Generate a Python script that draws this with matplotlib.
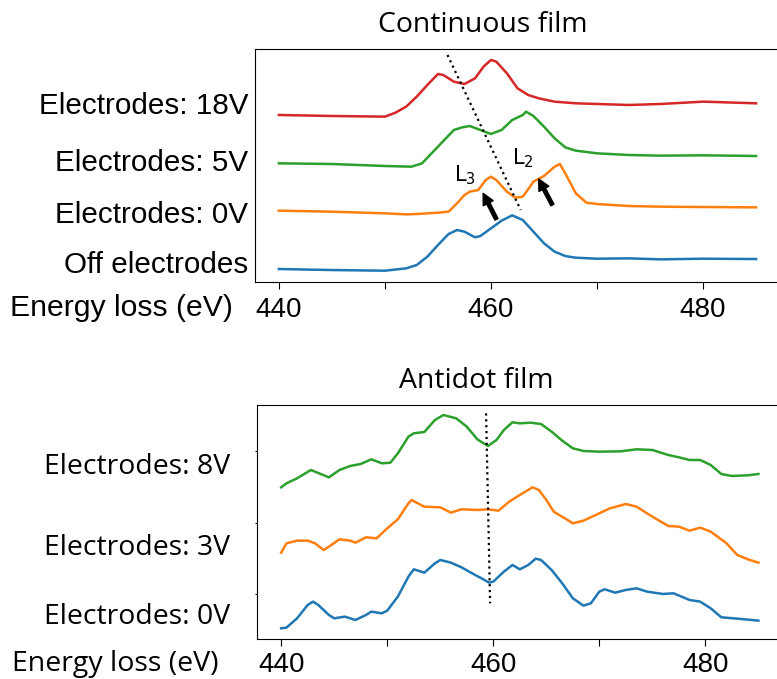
import matplotlib
matplotlib.use("Agg")
import matplotlib.pyplot as plt

# ---- continuous film (arbitrary units) ----
top_labels = ["Off electrodes", "Electrodes: 0V", "Electrodes: 5V", "Electrodes: 18V"]
top_label_y = [0.59, 2.09, 3.65, 5.36]

off_e = [440, 445, 450, 452, 453, 454, 455, 456, 456.8, 457.5, 458.5, 459, 460, 461, 462,
         463, 464, 465, 466, 467, 468, 470, 473, 476, 480, 485]
off_i = [0.38, 0.35, 0.33, 0.40, 0.50, 0.75, 1.10, 1.43, 1.55, 1.50, 1.33, 1.37, 1.60, 1.83,
         1.99, 1.85, 1.50, 1.15, 0.90, 0.77, 0.72, 0.69, 0.70, 0.67, 0.69, 0.68]

v0_e = [440, 445, 450, 452, 453, 454, 455, 456, 456.8, 457.5, 458, 458.8, 459.5, 460, 460.5,
        461.5, 462.3, 463, 463.5, 464, 465, 466, 466.5, 467, 468, 469, 470, 473, 476, 480, 485]
v0_i = [2.13, 2.10, 2.05, 2.02, 2.03, 2.05, 2.07, 2.10, 2.35, 2.60, 2.70, 2.75, 3.05, 3.15,
        3.05, 2.70, 2.52, 2.55, 2.77, 3.00, 3.17, 3.45, 3.53, 3.25, 2.65, 2.37, 2.33, 2.27,
        2.25, 2.24, 2.23]

v5_e = [440, 445, 450, 452.5, 453.5, 455, 456.5, 457.3, 458, 459, 460, 461, 462, 463, 463.3,
        464, 465, 466, 467, 468, 470, 473, 476, 480, 485]
v5_i = [3.55, 3.53, 3.47, 3.45, 3.55, 4.05, 4.55, 4.63, 4.67, 4.55, 4.43, 4.55, 4.85, 5.00,
        5.10, 4.97, 4.65, 4.30, 4.03, 3.93, 3.85, 3.80, 3.78, 3.79, 3.77]

v18_e = [440, 445, 450, 451, 452, 453, 454, 455, 455.5, 456.5, 457.5, 458.5, 459.3, 460,
         460.5, 461.5, 462.5, 463.5, 464.5, 466, 468, 470, 473, 476, 480, 485]
v18_i = [5.00, 4.97, 4.95, 5.07, 5.25, 5.55, 5.90, 6.23, 6.20, 6.00, 5.93, 6.10, 6.45, 6.65,
         6.60, 6.25, 5.80, 5.60, 5.50, 5.40, 5.35, 5.33, 5.30, 5.33, 5.40, 5.35]

# ---- antidot film ----
bot_labels = ["Electrodes: 0V", "Electrodes: 3V", "Electrodes: 8V"]

a0_e = [440, 440.5, 441.5, 442.5, 443, 443.5, 444.5, 445, 446, 447, 448, 448.5, 449.5, 450,
        451, 452, 452.5, 453.5, 454.5, 455, 456, 457, 458, 459, 459.6, 460, 461, 461.8, 462.5,
        463.3, 464, 464.5, 465.5, 466.5, 467.5, 468.5, 469.2, 470, 470.5, 471.5, 472.5, 473.5,
        474.5, 476, 477, 478.5, 479.5, 480.5, 481.5, 483, 485]
a0_i = [0.33, 0.35, 0.63, 1.03, 1.13, 1.03, 0.73, 0.63, 0.68, 0.58, 0.73, 0.83, 0.78, 0.86,
        1.28, 1.88, 2.10, 2.00, 2.28, 2.38, 2.30, 2.16, 1.98, 1.81, 1.70, 1.73, 2.03, 2.23, 2.10,
        2.23, 2.42, 2.38, 2.08, 1.68, 1.23, 1.01, 1.08, 1.43, 1.50, 1.40, 1.48, 1.53, 1.43,
        1.36, 1.38, 1.18, 1.13, 0.93, 0.66, 0.62, 0.56]

a3_e = [440, 440.5, 441.5, 442.5, 443.2, 444, 444.5, 445.5, 446.5, 447, 448, 449, 450, 451,
        452, 452.3, 453, 453.5, 455, 456, 457, 458.5, 459.5, 460.5, 461.5, 462.5, 463.7, 464.3,
        465, 465.7, 467, 467.5, 468.5, 470, 471, 472.5, 473.5, 475, 476.5, 477.5, 478.5, 479.5,
        480.5, 482, 483, 484, 485]
a3_i = [2.60, 2.88, 2.96, 2.96, 2.88, 2.68, 2.78, 3.00, 2.96, 2.90, 3.06, 3.03, 3.33, 3.60,
        4.08, 4.18, 4.06, 3.98, 3.96, 3.80, 3.90, 3.88, 3.90, 3.86, 4.13, 4.33, 4.56, 4.48,
        4.18, 3.83, 3.58, 3.48, 3.56, 3.78, 3.93, 4.06, 3.98, 3.68, 3.40, 3.38, 3.26, 3.35,
        3.23, 2.88, 2.53, 2.40, 2.30]

a8_e = [440, 440.5, 441.5, 442.8, 444.5, 445.5, 446.5, 447.5, 448.5, 449.5, 450.3, 451, 452,
        452.5, 453.5, 454.5, 455.3, 456.5, 457.5, 458.5, 459.5, 460.3, 461, 461.8, 462.5,
        463.5, 464.5, 465.5, 466.5, 467.5, 468.5, 470, 472, 473.5, 475, 476.5, 477.5, 478.5,
        479.5, 480.5, 481.5, 482.5, 484, 485]
a8_i = [4.56, 4.68, 4.83, 5.08, 4.86, 5.08, 5.20, 5.26, 5.40, 5.28, 5.30, 5.58, 6.08, 6.18,
        6.22, 6.58, 6.73, 6.63, 6.38, 6.00, 5.80, 5.98, 6.28, 6.51, 6.48, 6.50, 6.46, 6.23,
        5.96, 5.73, 5.65, 5.63, 5.64, 5.70, 5.68, 5.53, 5.46, 5.38, 5.38, 5.23, 4.96, 4.90,
        4.92, 4.96]
bot_tick_y = [1.36, 3.50, 5.65]

plt.rcParams["font.family"] = ["Liberation Sans", "DejaVu Sans"]
fig = plt.figure(figsize=(7.77, 6.79), dpi=100)
lw = 1.8

# top panel
ax1 = fig.add_axes([255 / 777, 397.3 / 679, 525 / 777, 232.4 / 679])
ax1.plot(off_e, off_i, color="#1f77b4", lw=lw)
ax1.plot(v0_e, v0_i, color="#ff7f0e", lw=lw)
ax1.plot(v5_e, v5_i, color="#2ca02c", lw=lw)
ax1.plot(v18_e, v18_i, color="#d62728", lw=lw)
ax1.plot([455.9, 462.8], [6.80, 2.15], color="black", ls=":", lw=1.6)
ax1.annotate("", xy=(459.26, 2.65), xytext=(460.52, 1.87),
             arrowprops=dict(facecolor="black", edgecolor="black", width=2.5,
                             headwidth=8, headlength=8))
ax1.annotate("", xy=(464.5, 3.08), xytext=(465.79, 2.30),
             arrowprops=dict(facecolor="black", edgecolor="black", width=2.5,
                             headwidth=8, headlength=8))
ax1.text(457.5, 3.2, "L$_3$", fontsize=15, ha="center", va="center", family="DejaVu Sans")
ax1.text(463.0, 3.7, "L$_2$", fontsize=15, ha="center", va="center", family="DejaVu Sans")
ax1.set_xlim(437.75, 487.25)
ax1.set_ylim(0, 6.97)
ax1.set_yticks(top_label_y)
ax1.set_yticklabels(top_labels, fontsize=21.3)
ax1.tick_params(axis="y", length=0, pad=5)
ax1.set_xticks([440, 450, 460, 470, 480])
ax1.set_xticklabels(["440", "", "460", "", "480"], fontsize=20)
ax1.tick_params(axis="x", length=5, pad=6)
fig.text(483 / 777, 1 - 25 / 679, "Continuous film", family="Open Sans", fontsize=20.4,
         ha="center", va="center")
fig.text(10 / 777, 1 - 308 / 679, "Energy loss (eV)", fontsize=21.7, ha="left", va="center")

# bottom panel
ax2 = fig.add_axes([257.3 / 777, 39.7 / 679, 525 / 777, 234.3 / 679])
ax2.plot(a0_e, a0_i, color="#1f77b4", lw=lw)
ax2.plot(a3_e, a3_i, color="#ff7f0e", lw=lw)
ax2.plot(a8_e, a8_i, color="#2ca02c", lw=lw)
ax2.plot([459.32, 459.70], [6.78, 1.08], color="black", ls=":", lw=1.6)
ax2.set_xlim(437.75, 487.25)
ax2.set_ylim(0, 7.03)
ax2.set_yticks(bot_tick_y)
ax2.set_yticklabels([])
ax2.tick_params(axis="y", length=1.5)
ax2.set_xticks([440, 450, 460, 470, 480])
ax2.set_xticklabels(["440", "", "460", "", "480"], fontsize=20)
ax2.tick_params(axis="x", length=5, pad=4.5)
for lab, yy in zip(bot_labels, [617, 548, 467]):
    fig.text(230 / 777, 1 - yy / 679, lab, family="Open Sans", fontsize=20.4,
             ha="right", va="center")
fig.text(476.5 / 777, 1 - 381 / 679, "Antidot film", family="Open Sans", fontsize=20.4,
         ha="center", va="center")
fig.text(12 / 777, 1 - 664 / 679, "Energy loss (eV)", family="Open Sans", fontsize=20.5,
         ha="left", va="center")

fig.savefig("out.png", dpi=100)
